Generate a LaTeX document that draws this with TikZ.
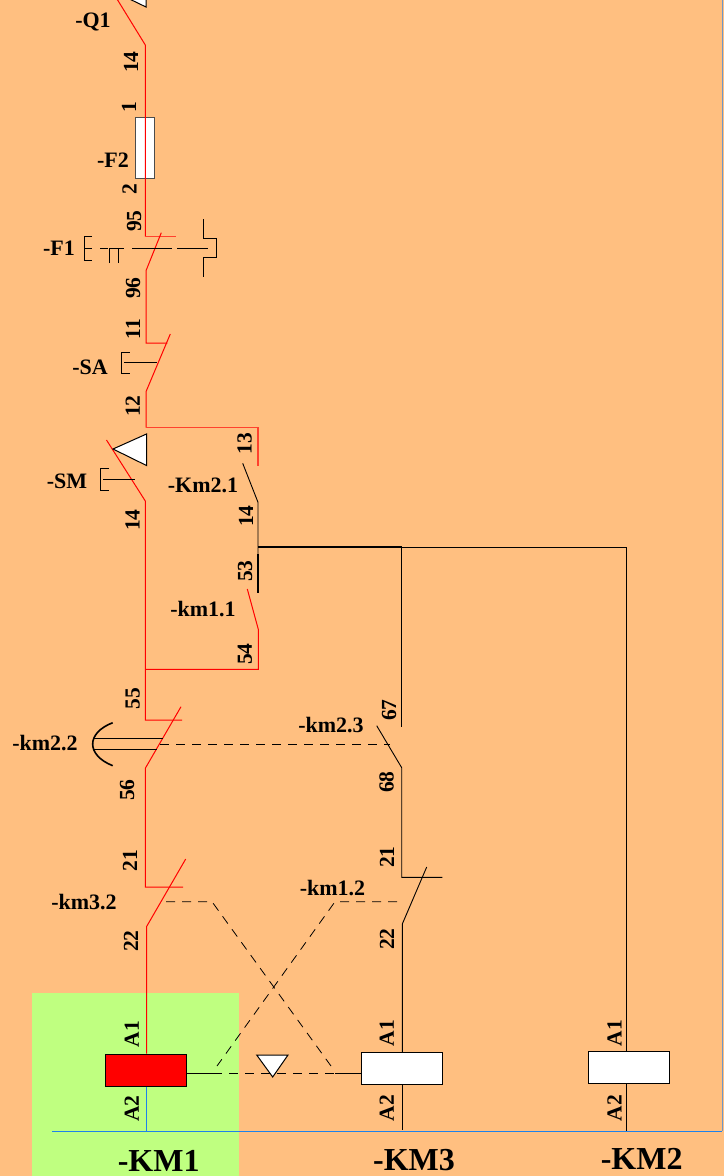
\documentclass[tikz,border=0pt]{standalone}
\usepackage{fontspec}
\setmainfont{Liberation Serif}
\definecolor{panel}{RGB}{255,191,128}
\definecolor{zone}{RGB}{191,255,128}
\definecolor{bus}{RGB}{30,130,235}
\definecolor{frame}{RGB}{110,150,200}
\definecolor{hot}{RGB}{255,65,45}
\tikzset{
  font=\bfseries,
  live/.style={draw=red,line width=1pt},
  livewide/.style={draw=hot,line width=1.5pt},
  wire/.style={draw=black,line width=0.9pt},
  heavy/.style={draw=black,line width=1.6pt},
  link/.style={draw=black,line width=0.8pt,dash pattern=on 9pt off 7pt},
  term/.style={font=\bfseries\fontsize{21.5}{21.5}\selectfont,rotate=90,inner sep=0pt},
  ref/.style={font=\bfseries\fontsize{22}{22}\selectfont,inner sep=0pt},
  coiltag/.style={font=\bfseries\fontsize{32}{32}\selectfont,inner sep=0pt},
  coil/.style={draw=black,line width=1pt,fill=white,minimum width=81pt,minimum height=32pt,inner sep=0pt},
  fuse/.style={draw=black!70,line width=1pt,fill=white,minimum width=19pt,minimum height=61pt,inner sep=0pt},
  push/.style={draw=black,line width=1pt,fill=white}
}
\begin{document}
\begin{tikzpicture}[x=1pt,y=-1pt]
\useasboundingbox (0,0) rectangle (724,1176);
\fill[panel] (0,0) rectangle (724,1176);
\fill[zone] (32,993) rectangle (239,1176);
% coils and fuse
\node[coil,fill=red] (km1) at (145.8,1070) {};
\node[coil] (km3) at (401.7,1068.3) {};
\node[coil] (km2) at (628.8,1067.5) {};
\node[fuse] (f2) at (145.3,148) {};
% points of the main branch
\coordinate (q1t) at (117,-1);
\coordinate (q1b) at (145.3,45);
\coordinate (f1t) at (145.3,236.7);
\coordinate (f1e) at (175.7,236.7);
\coordinate (f1a) at (161.3,232.7);
\coordinate (f1c) at (146,270.7);
\coordinate (sat) at (146,343);
\coordinate (sae) at (167.3,343);
\coordinate (saa) at (170.3,334);
\coordinate (sac) at (146,391.7);
\coordinate (nodeA) at (146,427.5);
\coordinate (k21t) at (258,427.5);
\coordinate (k21e) at (258,465.7);
\coordinate (smt) at (106.5,440);
\coordinate (smb) at (145.3,501);
\coordinate (nodeB) at (145.3,669.3);
\coordinate (k11b) at (258.3,669.3);
\coordinate (k11c) at (258.3,629.3);
\coordinate (k11a) at (247.3,589);
\coordinate (k22t) at (145.3,720);
\coordinate (k22e) at (182,720);
\coordinate (k22a) at (181,706.7);
\coordinate (k22c) at (145.3,768.3);
\coordinate (k32t) at (145.3,887);
\coordinate (k32e) at (183,887);
\coordinate (k32a) at (185.7,859);
\coordinate (k32c) at (146.5,926.7);
% control side
\coordinate (k21a) at (242.7,463.3);
\coordinate (k21c) at (258,502.3);
\coordinate (nodeC) at (258,547);
\coordinate (k11t) at (258,592.7);
\coordinate (k11m) at (258,554);
\coordinate (nodeD) at (401.7,547);
\coordinate (rail) at (626.9,547);
\coordinate (k23t) at (401.7,726.7);
\coordinate (k23a) at (376.7,725.7);
\coordinate (k23c) at (401.7,767.7);
\coordinate (k12t) at (401.7,877.3);
\coordinate (k12e) at (442.3,877.3);
\coordinate (k12a) at (426.7,867);
\coordinate (k12c) at (402.3,924);
% bus
\coordinate (busl) at (52,1131.3);
\coordinate (busr) at (722.3,1131.3);
\coordinate (edge) at (722.3,0);
% mechanical links
\coordinate (l22a) at (160,744.7);
\coordinate (l23b) at (390,744.7);
\coordinate (l32a) at (166,901.7);
\coordinate (l32b) at (212,901.7);
\coordinate (l12a) at (397,901.7);
\coordinate (l12b) at (335,901.7);
\coordinate (lcross) at (331,1066);
\coordinate (lcrossb) at (217,1066);
\coordinate (coilL) at (186.3,1073);
\coordinate (coilLb) at (213,1073);
\coordinate (coilR) at (361.3,1073);
\coordinate (coilRb) at (335,1073);
% branches
\draw[live] (q1t) -- (q1b) -- (f1t);
\draw[livewide] (f1t) -- (f1e);
\draw[live] (f1a) -- (f1c) -- (sat) -- (sae);
\draw[live] (saa) -- (sac) -- (nodeA);
\draw[livewide] (nodeA) -- (k21t) -- (k21e);
\draw[live] (smt) -- (smb) -- (k22t) -- (k22e);
\draw[live] (nodeB) -- (k11b) -- (k11c) -- (k11a);
\draw[live] (k22a) -- (k22c) -- (k32t) -- (k32e);
\draw[live] (k32a) -- (k32c) -- (km1.north -| k32c);
\draw[wire] (k21a) -- (k21c) -- (k11m);
\draw[heavy] (k11m) -- (k11t);
\draw[heavy] (nodeC) -- (nodeD);
\draw[wire] (nodeD) -- (rail) -- (rail |- km2.north);
\draw[wire] (nodeD) -- (k23t);
\draw[wire] (k23a) -- (k23c) -- (k12t) -- (k12e);
\draw[wire] (k12a) -- (k12c) -- (km3.north -| k12c);
\draw[wire] (km3.south -| k12c) -- ++(0,45);
\draw[wire] (km2.south -| rail) -- (rail |- busl);
\draw[draw=bus,line width=1pt] (km1.south -| k32c) -- (k32c |- busl);
\draw[draw=bus,line width=1pt] (busl) -- (busr);
\draw[draw=frame,line width=1.5pt] (busr) -- (edge);
% links between contacts and coils
\draw[link] (l22a) -- (l23b);
\draw[link] (l32a) -- (l32b) -- (lcross);
\draw[link] (l12a) -- (l12b) -- (lcrossb);
\draw[link] (coilLb) -- (coilRb);
\draw[wire] (coilL) -- (coilLb);
\draw[wire] (coilRb) -- (coilR);
% hand operators
\draw[push] (146,-24.5) -- (146,7) -- (113,-9) -- cycle;
\draw[push] (146.5,434) -- (146.5,465.5) -- (113,449) -- cycle;
\draw[push] (256.7,1055) -- (288,1055) -- (272.7,1077) -- cycle;
\draw[wire] (92,236) -| (84,260) -- (92,260) (84,248) -- (92,248);
\draw[wire,dash pattern=on 8pt off 1pt on 15pt off 8pt on 40pt off 5pt on 31pt off 20pt] (100,248) -- (208,248);
\draw[wire] (109,263) |- (118.7,248) -- (118.7,263);
\draw[wire] (203,219) |- (216.5,238) |- (203,257.5) -- (203,277);
\draw[wire] (129.5,352) -| (121,373) -- (129.5,373) (124,362) -- (157,362);
\draw[wire] (109,468) -| (100,490) -- (109,490) (103,479) -- (135,479);
\draw[heavy] (112.7,722.7) .. controls (86,733) and (86,755) .. (112.7,765.7);
\draw[wire] (94,738.7) -- (163,738.7) (94,749) -- (157,749);
% terminals
\node[term] (t14a) at (131,62) {14};
\node[term] (t1) at (129,107) {1};
\node[term] (t2) at (129.5,189) {2};
\node[term] (t95) at (134,221) {95};
\node[term] (t96) at (133,288) {96};
\node[term] (t11) at (133,329) {11};
\node[term] (t12) at (132.7,406) {12};
\node[term] (t13) at (244.5,443.7) {13};
\node[term] (t14b) at (132.5,520) {14};
\node[term] (t14c) at (246,516) {14};
\node[term] (t53) at (245,571) {53};
\node[term] (t54) at (245,654) {54};
\node[term] (t55) at (132.7,698.7) {55};
\node[term] (t56) at (127,790) {56};
\node[term] (t67) at (389,710) {67};
\node[term] (t68) at (386.5,782) {68};
\node[term] (t21a) at (130,860.7) {21};
\node[term] (t21b) at (387,857) {21};
\node[term] (t22a) at (131,941) {22};
\node[term] (t22b) at (387,939) {22};
\node[term] (a1a) at (131.7,1034) {A1};
\node[term] (a2a) at (131.7,1108.7) {A2};
\node[term] (a1b) at (386.7,1033) {A1};
\node[term] (a2b) at (386.7,1108) {A2};
\node[term] (a1c) at (614.5,1033) {A1};
\node[term] (a2c) at (614.5,1108) {A2};
% references
\node[ref] (lq1) at (93,21.5) {-Q1};
\node[ref] (lf2) at (113,160) {-F2};
\node[ref] (lf1) at (59,248) {-F1};
\node[ref] (lsa) at (90,367) {-SA};
\node[ref] (lsm) at (67,481) {-SM};
\node[ref] (lk21) at (203,485) {-Km2.1};
\node[ref] (lk11) at (203,609) {-km1.1};
\node[ref] (lk22) at (45,743) {-km2.2};
\node[ref] (lk23) at (331,725) {-km2.3};
\node[ref] (lk32) at (84,902) {-km3.2};
\node[ref] (lk12) at (332.5,888) {-km1.2};
\node[coiltag] (lkm1) at (158.7,1161) {-KM1};
\node[coiltag] (lkm3) at (414,1160) {-KM3};
\node[coiltag] (lkm2) at (641.7,1159) {-KM2};
\end{tikzpicture}
\end{document}
